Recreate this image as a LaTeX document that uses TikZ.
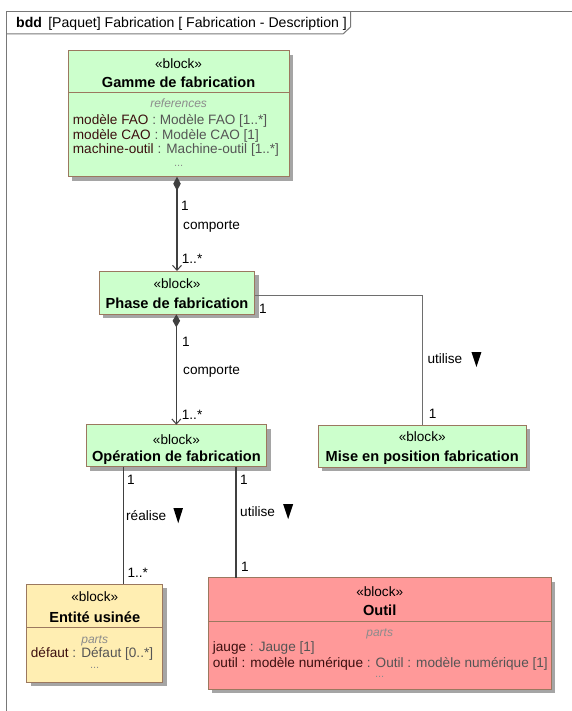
\documentclass[tikz,border=0pt]{standalone}
\usepackage{fontspec}
\setmainfont{Liberation Sans}
\usetikzlibrary{arrows.meta,shadows,calc}
\definecolor{bordc}{RGB}{155,120,95}
\definecolor{greenf}{RGB}{204,255,204}
\definecolor{yellowf}{RGB}{255,238,178}
\definecolor{redf}{RGB}{255,153,153}
\definecolor{shadc}{RGB}{165,165,165}
\definecolor{linec}{RGB}{64,64,64}
\definecolor{thinc}{RGB}{110,110,110}
\definecolor{namec}{RGB}{60,15,15}
\definecolor{typec}{RGB}{85,85,85}
\definecolor{compc}{RGB}{140,140,140}
\definecolor{framec}{RGB}{120,120,120}
\newcommand\regf{\fontsize{13.6}{16}\selectfont}
\newcommand\hdrf{\fontsize{14.1}{16}\selectfont}
\newcommand\boldf{\fontsize{14.6}{17}\selectfont\bfseries}
\newcommand\smallf{\fontsize{12}{14}\selectfont\itshape}
\begin{document}
\begin{tikzpicture}[x=1pt,y=-1pt,
  blk/.style={draw=bordc, line width=1pt, inner sep=0pt, outer sep=0pt, anchor=north west,
    general shadow={fill=shadc, shadow xshift=4pt, shadow yshift=-4pt}},
  txt/.style={inner sep=0pt, font=\regf, text height=9.8pt, text depth=0pt},
  stereo/.style={txt},
  bname/.style={inner sep=0pt, font=\boldf, text height=10.4pt, text depth=0pt},
  comp/.style={inner sep=0pt, font=\smallf, text=compc, text height=8.6pt, text depth=0pt},
  attr/.style={txt, anchor=west},
  dots/.style={inner sep=0pt, font=\fontsize{11}{12}\selectfont, text=compc},
  lbl/.style={txt, anchor=west},
  assoc/.style={draw=linec, line width=1.6pt},
  thinassoc/.style={draw=thinc, line width=1pt},
  tri/.style={fill=black},
  sep/.style={draw=bordc, line width=1pt},
]
\useasboundingbox (0,0) rectangle (572,711);
\fill[white] (0,0) rectangle (572,711);

% frame
\draw[framec, line width=1pt] (6,11.5) rectangle (640,760);
\draw[framec, line width=1pt] (6,34) -- (343,34) -- (350.5,27) -- (350.5,11.5);
\node[inner sep=0pt, font=\hdrf, text height=10pt, text depth=0pt, anchor=west] (hdr) at (16,23) {\textbf{bdd} \,[Paquet] Fabrication [ Fabrication - Description ]};

% blocks
\node[blk, fill=greenf, minimum width=220.7pt, minimum height=126pt] (gamme) at (68.3,50.7) {};
\node[blk, fill=greenf, minimum width=155.4pt, minimum height=43.3pt] (phase) at (99.3,271) {};
\node[blk, fill=greenf, minimum width=207.7pt, minimum height=42.3pt] (mise) at (318.3,425) {};
\node[blk, fill=greenf, minimum width=180.7pt, minimum height=42pt] (oper) at (86,424.7) {};
\node[blk, fill=yellowf, minimum width=136pt, minimum height=98pt] (ent) at (26.7,584.3) {};
\node[blk, fill=redf, minimum width=342.7pt, minimum height=111.6pt] (outil) at (208.3,577.7) {};

% compartment separators
\draw[sep] (68.3,92.7) -- (289,92.7);
\draw[sep] (26.7,627.3) -- (162.7,627.3);
\draw[sep] (208.3,621) -- (551,621);

% Gamme texts
\node[stereo] (gst) at (178.6,64) {«block»};
\node[bname] (gnm) at (178.6,82.3) {Gamme de fabrication};
\node[comp] (gref) at (178.6,103) {references};
\node[attr] (ga1) at (72.7,120) {\textcolor{namec}{modèle FAO} \textcolor{typec}{: Modèle FAO [1..*]}};
\node[attr] (ga2) at (72.7,134.5) {\textcolor{namec}{modèle CAO} \textcolor{typec}{: Modèle CAO [1]}};
\node[attr] (ga3) at (72.7,149) {\textcolor{namec}{machine-outil} \textcolor{typec}{: Machine-outil [1..*]}};
\node[dots] (gd) at (178.6,166) {...};

% Phase texts
\node[stereo] (pst) at (177,284) {«block»};
\node[bname] (pnm) at (177,303) {Phase de fabrication};

% Mise texts
\node[stereo] (mst) at (422.2,437) {«block»};
\node[bname] (mnm) at (422.2,456) {Mise en position fabrication};

% Operation texts
\node[stereo] (ost) at (176.4,440) {«block»};
\node[bname] (onm) at (176.4,456.7) {Opération de fabrication};

% Entite texts
\node[stereo] (est) at (94.7,596.7) {«block»};
\node[bname] (enm) at (94.7,617.3) {Entité usinée};
\node[comp] (epa) at (94.7,639.3) {parts};
\node[attr] (ea1) at (30.7,652.5) {\textcolor{namec}{défaut} \textcolor{typec}{: Défaut [0..*]}};
\node[dots] (ed) at (94.7,668) {...};

% Outil texts
\node[stereo] (tst) at (379.7,591.7) {«block»};
\node[bname] (tnm) at (379.7,610) {Outil};
\node[comp] (tpa) at (379.7,631.7) {parts};
\node[attr] (ta1) at (212.7,646.7) {\textcolor{namec}{jauge} \textcolor{typec}{: Jauge [1]}};
\node[attr] (ta2) at (212.7,662.5) {\textcolor{namec}{outil : modèle numérique} \textcolor{typec}{: Outil : modèle numérique [1]}};
\node[dots] (td) at (379.7,677) {...};

% connectors
\draw[assoc, {Diamond[length=14pt,width=7.5pt,fill=linec]}-{Straight Barb[length=5pt,width=9pt,line width=1pt]}]
  (phase.north |- gamme.south) -- (phase.north);
\draw[assoc, {Diamond[length=13pt,width=7.5pt,fill=linec]}-{Straight Barb[length=5pt,width=9pt,line width=1pt]}]
  (phase.south -| oper.north) -- (oper.north);
\draw[thinassoc] ($(phase.east)+(0,3)$) -| (mise.north);
\path (oper.south west) ++(37.3,0) coordinate (ol);
\path (oper.south west) ++(150,0) coordinate (orr);
\draw[assoc] (ol) -- (ol |- ent.north);
\draw[assoc] (orr) -- (orr |- outil.north);

% labels
\node[lbl] (l1) at (181,206) {1};
\node[lbl] (l2) at (183,225) {comporte};
\node[lbl] (l3) at (181.7,259) {1..*};
\node[lbl] (l4) at (259,308.5) {1};
\node[lbl] (l5) at (427.3,359) {utilise};
\fill[tri] ($(l5.east)+(9,-7)$) -- ++(10,0) -- ++(-5,15) -- cycle;
\node[lbl] (l6) at (428.7,414) {1};
\node[lbl] (l7) at (182,341.7) {1};
\node[lbl] (l8) at (183,370) {comporte};
\node[lbl] (l9) at (181.7,415) {1..*};
\node[lbl] (l10) at (127,480) {1};
\node[lbl] (l11) at (126,515.7) {réalise};
\fill[tri] ($(l11.east)+(7,-7.5)$) -- ++(9.5,0) -- ++(-4.75,15) -- cycle;
\node[lbl] (l12) at (127.3,573) {1..*};
\node[lbl] (l13) at (240,480) {1};
\node[lbl] (l14) at (240,511.7) {utilise};
\fill[tri] ($(l14.east)+(8,-7.5)$) -- ++(10,0) -- ++(-5,15) -- cycle;
\node[lbl] (l15) at (241,566.7) {1};
\end{tikzpicture}
\end{document}
